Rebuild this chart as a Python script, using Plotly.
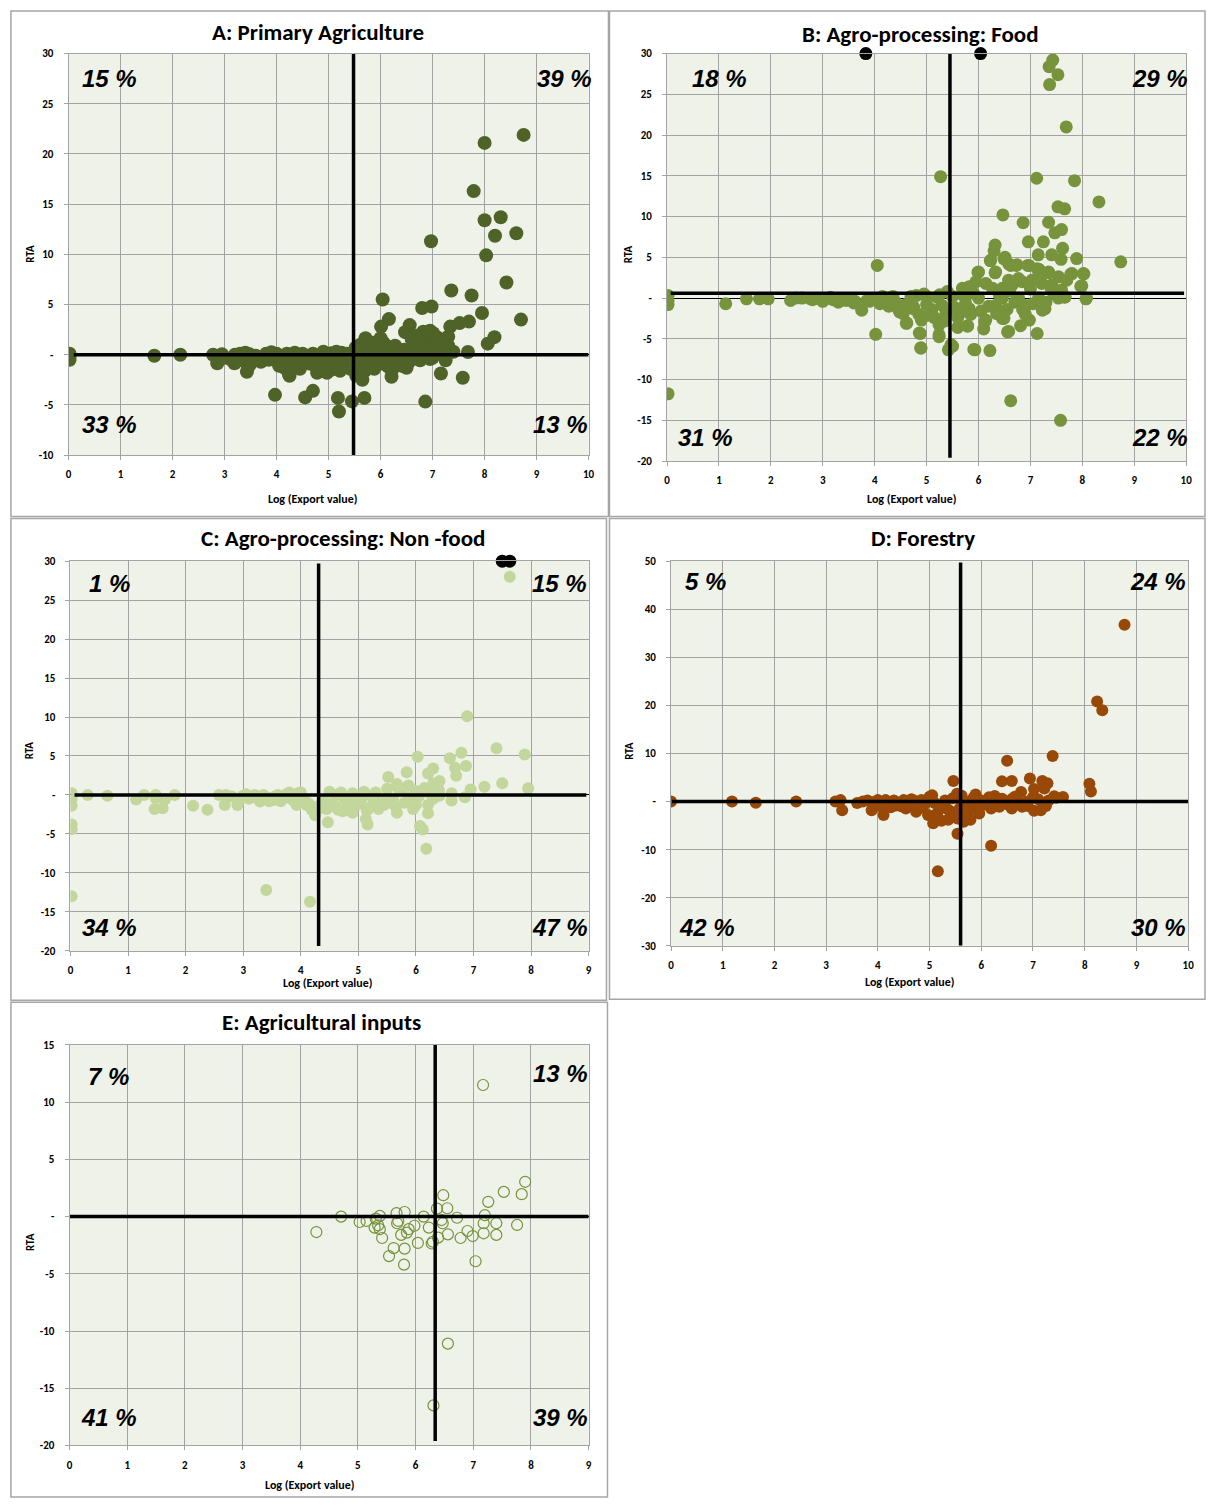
import plotly.graph_objects as go
from plotly.subplots import make_subplots

W, H = 1212, 1505

# ---------------- data ----------------
# A: Primary Agriculture
a_x = [8.75, 8.0, 7.79, 8.0, 8.31, 8.2, 8.61, 6.97, 8.03, 8.42, 7.36, 7.75, 6.04, 7.95, 6.8, 6.98,
       8.7, 6.16, 7.7, 7.52, 7.34, 6.56, 6.01, 6.47, 6.82, 7.01, 7.3, 8.19, 8.06, 7.68, 5.71, 6.0,
       5.61, 6.06, 6.9, 6.76, 7.17, 6.6, 6.3, 6.45, 5.9, 6.2, 7.05, 6.7, 6.95, 7.1, 6.55, 5.6,
       5.5, 5.75, 5.85, 6.9, 7.4,
       0.02, 0.02, 0.02, 1.65, 2.15, 2.78, 2.86, 2.95, 3.13, 3.19, 3.3, 3.35, 3.43, 3.45, 3.48, 3.6,
       3.64, 3.67, 3.8, 3.89, 3.97, 4.0, 4.1, 4.15, 4.2, 4.25, 4.24, 4.3, 4.38, 4.47, 4.5, 4.55,
       4.6, 4.7, 4.7, 4.78, 4.8, 4.9, 4.97, 5.0, 5.05, 5.1, 5.15, 5.18, 5.2, 5.25, 5.29, 5.3,
       5.35, 5.4, 5.45, 5.45, 5.53, 5.55, 5.6, 5.64, 5.69, 5.8, 5.93, 6.0, 6.1, 6.18, 6.21, 6.24,
       6.3, 6.44, 6.5, 6.6, 6.76, 6.86, 6.95, 7.0, 7.16, 7.25, 7.58, 4.0, 3.75, 3.2, 3.55, 4.4,
       4.65, 4.85, 5.05, 5.2, 5.5, 5.7, 5.9, 6.05, 6.35, 6.5,
       3.0, 3.25, 3.5, 3.7, 3.85, 4.05, 4.25, 4.45, 4.55, 4.75, 4.95, 5.1, 5.22, 5.35, 5.42, 5.58,
       5.65, 5.78, 5.88, 6.08, 6.15, 6.28, 6.4, 6.55, 6.65, 6.85, 7.05, 7.2, 7.3, 3.4, 3.9, 4.35,
       4.9, 5.15, 5.52, 5.95, 6.25, 6.7, 7.1]
a_y = [21.9, 21.1, 16.3, 13.4, 13.7, 11.85, 12.1, 11.3, 9.9, 7.2, 6.4, 5.9, 5.5, 4.15, 4.65, 4.8,
       3.5, 3.55, 3.3, 3.15, 2.8, 2.95, 2.8, 2.25, 2.3, 2.15, 1.8, 1.75, 1.1, 0.27, 1.65, 1.65,
       1.0, 1.16, 1.45, 0.95, 0.6, 1.5, 0.6, 0.5, 0.7, 0.3, 1.0, 1.9, 2.4, 0.3, 0.2, 0.5,
       0.3, 0.2, 1.2, 0.5, 0.3,
       0.1, -0.2, -0.5, -0.1, 0.0, 0.0, -0.85, 0.05, -0.5, -0.85, 0.1, -0.2, -1.7, -1.3, 0.05, -0.1,
       -0.32, -0.35, 0.1, -0.2, -4.0, 0.1, -0.3, -1.3, 0.1, -2.1, -1.97, -0.4, -0.85, -0.81, 0.1, -4.25,
       -0.3, -3.6, 0.1, -1.8, -0.5, 0.1, -1.8, -0.4, 0.15, -0.81, -0.2, -4.3, -5.65, 0.2, -0.32, -1.0,
       0.1, -0.6, -4.65, 0.15, -2.07, -1.2, -0.5, -0.65, -4.3, -0.16, -0.32, -0.5, 0.1, -0.49, -2.2, -1.35,
       -0.2, -1.15, -0.3, 0.0, -0.55, -4.67, -0.42, -0.3, -1.87, -0.55, -2.3, -0.6, -0.5, 0.0, -0.6, 0.0,
       -0.9, -1.2, -1.5, -0.9, -1.0, -1.6, -1.0, -0.9, -0.9, -1.3,
       -0.3, -0.6, -0.9, -0.7, -0.5, -1.1, -0.6, -1.4, -0.7, -1.0, -0.6, -1.2, -1.6, -0.3, -1.4, 0.6,
       -2.5, -1.1, -1.4, 0.4, -1.2, 0.9, 0.3, -0.7, 0.5, 0.2, 1.4, 1.1, 0.9, 0.2, 0.25, 0.2,
       0.3, 0.3, 0.7, 0.6, 0.8, 1.2, 1.7]
a_pct = ["15 %", "39 %", "33 %", "13 %"]
a_cut_x, a_cut_y = 5.48, 0.0

# B: Agro-processing: Food
b_x = [7.43, 7.36, 7.53, 7.37, 7.69, 5.27, 7.12, 7.85, 8.32, 7.53, 7.66, 6.47, 6.86, 7.35, 7.47, 7.6,
       6.96, 7.25, 6.32, 6.3, 7.15, 7.62, 7.41, 8.74, 7.89, 7.59, 6.23, 6.51, 6.58, 6.73, 4.05, 5.99,
       6.32, 6.95, 7.17, 7.35, 7.78, 8.03, 7.97, 8.07, 7.66,
       6.0, 6.33, 6.23, 6.49, 6.62, 6.74, 6.97, 7.13, 7.35, 7.54, 7.8, 8.02, 7.99, 7.7, 8.08, 7.67,
       5.95, 6.14, 5.82, 5.69, 6.27, 6.46, 6.65, 6.84, 7.03, 7.22, 7.41, 7.16, 6.77, 6.58,
       4.61, 4.86, 4.89, 5.24, 5.24, 5.47, 5.79, 5.91, 6.22, 6.58, 6.81, 7.13, 6.46, 6.14, 5.63, 5.05,
       4.48, 4.29, 4.74, 5.37, 5.82, 6.33, 6.9, 7.28, 7.54, 7.16, 6.77, 6.46, 6.0, 5.5, 5.7, 5.2,
       5.0, 4.8,
       0.02, 0.02, 0.02, 1.13, 1.53, 1.78, 1.95, 2.38, 2.48, 2.75, 2.9, 3.05, 3.2, 3.35, 3.5, 3.62,
       3.75, 3.85, 4.0, 4.02, 4.15, 4.27, 4.4, 4.55, 4.62, 4.7, 4.88, 4.89, 4.9, 5.0, 5.24, 5.42,
       5.5, 5.93, 6.62, 7.58, 0.02, 6.56, 6.49, 6.12, 6.98, 7.23, 6.85, 5.79, 5.67,
       2.6, 2.8, 3.0, 3.15, 3.3, 3.45, 3.6, 3.9, 4.1, 4.3, 4.45, 4.6, 4.75, 4.85, 5.1, 5.15,
       5.3, 5.35, 5.55, 5.6, 5.75, 5.85, 6.05, 6.2, 6.35, 6.55, 6.7, 6.9, 7.05, 7.3, 7.45, 7.6,
       4.95, 5.4, 5.9, 6.4, 6.6, 7.0, 7.4, 5.25, 4.7, 4.35, 5.6, 6.1]
b_y = [29.2, 28.4, 27.4, 26.2, 21.0, 14.9, 14.7, 14.4, 11.8, 11.2, 10.95, 10.2, 9.25, 9.3, 8.0, 8.4,
       6.9, 6.9, 6.5, 5.8, 5.3, 6.1, 5.3, 4.45, 4.85, 4.75, 4.6, 5.0, 4.2, 4.0, 4.0, 3.15,
       3.1, 4.0, 3.5, 3.1, 2.95, 2.95, 1.45, -0.1, 0.1,
       3.2, 3.2, 4.6, 4.8, 4.0, 4.1, 4.0, 3.6, 3.2, 2.6, 3.0, 3.0, 1.5, 2.2, 0.0, 0.15,
       2.0, 1.8, 1.4, 1.2, 1.2, 1.2, 1.6, 2.0, 2.2, 1.8, 1.6, 2.6, 2.4, 2.2,
       -3.1, -4.3, -6.1, -3.3, -4.5, -5.7, -3.4, -6.3, -6.45, -4.1, -3.4, -4.35, -2.5, -2.7, -1.7, -2.1,
       -1.7, -0.45, -1.3, -1.9, -1.3, -0.9, -0.9, -1.3, 0.0, 0.0, 0.0, 0.0, 0.0, 0.2, 0.4, 0.1,
       0.2, 0.3,
       0.3, -0.3, -0.8, -0.7, -0.1, -0.1, -0.1, -0.3, 0.0, -0.05, -0.05, -0.1, -0.2, -0.3, -0.2, -0.4,
       -1.5, -0.3, -0.2, -4.45, 0.2, -1.0, -0.5, -1.9, -3.05, 0.2, -4.35, -6.15, -2.7, -0.8, -4.75, -6.35,
       -5.9, -6.35, -12.6, -15.0, -11.75, -4.15, -2.5, -2.9, -2.7, -1.5, -1.4, -3.45, -1.7,
       0.0, -0.2, -0.4, 0.1, -0.5, -0.3, -0.6, -0.4, -0.7, -0.5, -1.3, -0.8, -1.1, -2.0, -1.4, -2.4,
       -0.9, -2.8, -1.2, -2.4, -0.6, -2.0, -1.6, -1.0, -1.9, -1.4, -0.5, -2.0, -0.7, -0.5, 0.5, 1.0,
       0.5, 0.8, 0.6, 0.4, 0.9, 1.1, 1.2, 0.4, -0.2, 0.2, -3.6, -3.8]
b_out_x = [3.83, 6.04]
b_out_y = [30, 30]
b_pct = ["18 %", "29 %", "31 %", "22 %"]
b_cut_x, b_cut_y = 5.45, 0.6

# C: Agro-processing: Non-food
c_x = [7.63, 6.89, 7.4, 7.89, 6.03, 6.59, 6.79, 6.87, 6.68, 6.7, 6.3, 6.21, 5.84, 5.52, 5.67, 5.87,
       6.41, 6.95, 7.19, 7.5, 7.95, 6.62, 6.62, 6.85, 6.41, 6.15, 6.3, 5.5, 5.3, 5.1, 4.9, 4.7,
       4.5, 6.0, 5.75,
       0.02, 0.02, 0.02, 0.02, 0.02, 0.02, 3.4, 4.16, 0.3, 0.64, 1.14, 1.28, 1.48, 1.48, 1.46, 1.6,
       1.64, 1.81, 2.13, 2.38, 2.58, 2.68, 2.9, 2.8, 3.0, 3.1, 3.2, 3.29, 3.4, 3.52, 3.6, 3.7,
       3.8, 3.93, 3.95, 4.05, 4.13, 4.19, 4.25, 4.47, 4.6, 4.73, 4.9, 5.0, 5.13, 5.16, 5.3, 5.44,
       5.6, 5.67, 5.8, 6.0, 6.07, 6.12, 6.18, 6.21, 6.21, 4.4, 4.8, 5.2, 4.6, 5.9, 6.3,
       2.7, 2.95, 3.05, 3.15, 3.35, 3.45, 3.55, 3.65, 3.75, 3.85, 3.9, 4.0, 4.1, 4.2, 4.35, 4.45,
       4.55, 4.65, 4.75, 4.85, 4.95, 5.05, 5.15, 5.25, 5.35, 5.45, 5.55, 5.65, 5.7, 5.95, 6.05, 6.25,
       6.4, 4.3, 4.25]
c_y = [28.0, 10.1, 6.0, 5.2, 4.9, 4.7, 5.4, 3.7, 3.5, 2.45, 3.4, 2.75, 2.9, 2.3, 1.4, 1.2,
       1.8, 0.7, 1.05, 1.5, 0.85, 0.2, -0.7, -0.3, -0.1, 0.9, 1.5, 0.8, 0.3, 0.4, 0.2, 0.3,
       0.4, 0.5, 0.6,
       0.2, -0.5, -1.4, -3.8, -4.4, -13.0, -12.2, -13.7, 0.0, -0.1, -0.6, 0.0, 0.0, -0.4, -1.8, -1.7,
       -0.6, 0.0, -1.4, -1.9, 0.0, -1.3, -1.3, -0.2, -0.1, -0.5, 0.0, -0.85, -0.3, -0.65, 0.0, -0.4,
       0.3, -1.3, 0.2, -0.5, -1.05, -1.9, -2.3, -3.5, -1.5, -2.1, -2.3, -1.2, -3.1, -3.8, -0.8, -1.3,
       -0.5, -2.3, -1.0, -1.3, -4.0, -4.45, -6.9, -1.3, -2.35, -0.8, -0.9, -1.6, 0.0, -0.3, -0.5,
       0.0, -0.6, 0.1, -0.3, 0.0, -0.8, -0.2, -0.8, 0.1, -0.6, -0.9, 0.3, -1.3, -1.5, -1.2, -1.8,
       -1.1, -1.9, -0.5, -1.6, -1.0, -0.6, -2.0, -0.4, -1.8, -0.7, -1.0, -1.5, 0.8, -1.8, -0.2, 0.2,
       0.6, -1.8, -2.6]
c_out_x = [7.5, 7.63]
c_out_y = [30, 30]
c_pct = ["1 %", "15 %", "34 %", "47 %"]
c_cut_x, c_cut_y = 4.31, 0.0

# D: Forestry
d_x = [8.77, 8.24, 8.34, 7.38, 6.5, 5.46, 6.4, 6.59, 6.94, 7.18, 7.28, 7.02, 7.22, 8.09, 8.12, 6.77,
       7.58, 7.41, 5.89, 6.26, 5.05, 5.53, 6.6, 0.0, 1.18, 1.64, 2.42, 3.18, 3.28, 3.31, 3.71, 3.88,
       4.07, 4.11, 4.31, 4.5, 4.7, 4.84, 4.54, 4.74, 4.97, 5.07, 5.23, 5.36, 5.16, 5.54, 6.19, 5.54,
       5.66, 5.79, 5.96, 5.69, 5.86, 6.19, 6.35, 6.59, 6.79, 7.02, 7.15, 3.95, 4.2, 4.35, 4.6, 4.9,
       5.1, 5.3, 5.6, 5.8, 6.0, 6.2, 6.45, 6.7, 6.9, 7.1, 7.3, 5.2, 5.4, 6.0, 6.5, 6.9,
       7.2, 5.7, 5.9, 3.6, 4.0,
       3.8, 4.0, 4.15, 4.25, 4.4, 4.45, 4.65, 4.8, 4.95, 5.0, 5.15, 5.25, 5.35, 5.45, 5.5, 5.62,
       5.72, 5.85, 5.95, 6.1, 6.3, 6.4, 6.55, 6.65, 6.85, 7.0, 7.25, 7.45, 5.58, 5.75, 4.55, 6.15]
d_y = [36.8, 20.8, 19.0, 9.5, 8.5, 4.3, 4.2, 4.3, 4.8, 4.3, 3.8, 2.6, 2.7, 3.7, 2.1, 2.0,
       0.95, 1.1, 1.45, 1.15, 1.3, 1.65, 0.6, 0.0, 0.0, -0.25, 0.0, 0.0, 0.3, -1.8, 0.0, -1.8,
       -1.1, -2.8, 0.2, 0.3, 0.2, 0.3, -1.45, -2.1, -2.8, -4.5, -4.0, -3.8, -14.5, -6.7, -9.2, -3.5,
       -4.2, -3.8, -2.5, -1.45, -1.1, -1.45, -1.1, -1.45, -1.1, -1.9, -1.8, 0.0, -0.5, -0.8, -0.4, -0.6,
       -0.3, 0.2, 0.3, 0.1, 0.2, 0.4, 0.1, 0.3, 0.0, 0.5, 0.2, -1.2, -2.0, -0.8, -0.5, -0.9,
       -0.6, -2.6, -0.5, -0.3, 0.3,
       0.2, -0.8, 0.3, -1.2, -0.3, -1.0, 0.5, -1.4, 0.1, 1.0, -2.4, -0.7, -1.6, 0.7, -2.3, 1.2,
       -0.8, 0.8, -1.6, -0.6, -0.9, 0.6, -0.8, 1.0, -0.4, 0.9, -0.9, 0.8, -1.5, -2.0, -0.8, 0.9]
d_pct = ["5 %", "24 %", "42 %", "30 %"]
d_cut_x, d_cut_y = 5.6, 0.0

# E: Agricultural inputs
e_x = [7.17, 6.56, 6.31, 4.28, 4.71, 5.03, 5.15, 5.31, 5.38, 5.35, 5.38, 5.29, 5.42, 5.54, 5.62, 5.8,
       5.81, 5.75, 5.67, 5.7, 5.68, 5.81, 5.88, 5.98, 6.04, 6.14, 6.23, 6.3, 6.37, 6.48, 6.47, 6.56,
       6.39, 6.55, 6.72, 6.78, 6.99, 6.9, 7.04, 7.18, 7.2, 7.18, 7.26, 7.4, 7.4, 7.53, 7.76, 7.84,
       7.9, 6.28, 6.45, 5.85]
e_y = [11.5, -11.1, -16.5, -1.35, 0.0, -0.47, -0.38, -0.18, 0.06, -0.76, -1.1, -0.96, -1.87, -3.45, -2.75, -4.2,
       -2.8, -1.6, 0.3, -0.38, -0.58, 0.4, -1.1, -0.8, -2.3, 0.0, -0.96, -2.2, 0.7, 1.87, -0.58, -1.55,
       -1.84, 0.73, -0.1, -1.87, -1.7, -1.26, -3.9, -0.58, 0.12, -1.46, 1.29, -0.58, -1.6, 2.16, -0.73, 1.96,
       3.04, -2.35, -0.3, -1.4]
e_pct = ["7 %", "13 %", "41 %", "39 %"]
e_cut_x, e_cut_y = 6.34, 0.0


def px(x):
    return x / W


def py(y):
    return 1 - y / H


# layout of each panel, in screen pixels of the original page
panels = [
    dict(row=1, col=1, title="A: Primary Agriculture", x=a_x, y=a_y, color="#4f6228", size=14, hollow=False,
         xmax=10, yr=(-10, 30), ystep=5, box=(66, 48, 590, 453), frame=(8, 5, 610, 515), tpos=(317, 26),
         pct=a_pct, ppos=[(107, 73), (566, 73), (107, 422), (562, 422)],
         cut=(a_cut_x, a_cut_y), vspan=(-10, 30), hspan=(0.1, 10),
         xt=(312, 497), yt=(28, 250), out=None),
    dict(row=1, col=2, title="B: Agro-processing: Food", x=b_x, y=b_y, color="#77933c", size=13, hollow=False,
         xmax=10, yr=(-20, 30), ystep=5, box=(669, 48, 1192, 459), frame=(611, 5, 1211, 515), tpos=(924, 28),
         pct=b_pct, ppos=[(722, 73), (1166, 73), (708, 435), (1166, 435)],
         cut=(b_cut_x, b_cut_y), vspan=(-19.6, 30), hspan=(0.07, 9.96),
         xt=(915, 497), yt=(631, 250), out=(b_out_x, b_out_y)),
    dict(row=2, col=1, title="C: Agro-processing: Non -food", x=c_x, y=c_y, color="#c3d69b", size=12, hollow=False,
         xmax=9, yr=(-20, 30), ystep=5, box=(68, 560, 590, 953), frame=(8, 517, 608, 1003), tpos=(343, 537),
         pct=c_pct, ppos=[(107, 583), (561, 583), (107, 930), (561, 930)],
         cut=(c_cut_x, c_cut_y), vspan=(-19.4, 29.7), hspan=(0.07, 8.96),
         xt=(327, 986), yt=(27, 751), out=(c_out_x, c_out_y)),
    dict(row=2, col=2, title="D: Forestry", x=d_x, y=d_y, color="#984807", size=12, hollow=False,
         xmax=10, yr=(-30, 50), ystep=10, box=(673, 560, 1194, 948), frame=(611, 517, 1211, 1002), tpos=(927, 537),
         pct=d_pct, ppos=[(708, 581), (1164, 581), (709, 930), (1164, 930)],
         cut=(d_cut_x, d_cut_y), vspan=(-30, 49.7), hspan=(0.02, 10),
         xt=(913, 985), yt=(631, 751), out=None),
    dict(row=3, col=1, title="E: Agricultural inputs", x=e_x, y=e_y, color="#77933c", size=11, hollow=True,
         xmax=9, yr=(-20, 15), ystep=5, box=(67, 1048, 590, 1452), frame=(8, 1005, 609, 1504), tpos=(321, 1025),
         pct=e_pct, ppos=[(106, 1080), (562, 1077), (107, 1424), (562, 1424)],
         cut=(e_cut_x, e_cut_y), vspan=(-19.6, 15.4), hspan=(0, 9),
         xt=(309, 1492), yt=(27, 1247), out=None),
]

NARROW = "Carlito, 'Liberation Sans Narrow', 'DejaVu Sans Condensed', 'Open Sans', sans-serif"
GRID = "#a3a3a3"

fig = make_subplots(rows=3, cols=2, specs=[[{}, {}], [{}, {}], [{}, None]])

for p in panels:
    r, c = p["row"], p["col"]
    x0, y0, x1, y1 = p["box"]

    # scatter of products
    if p["hollow"]:
        marker = dict(size=p["size"], color="rgba(0,0,0,0)", line=dict(color=p["color"], width=1.2))
    else:
        marker = dict(size=p["size"], color=p["color"], line=dict(width=0))
    fig.add_trace(go.Scatter(x=p["x"], y=p["y"], mode="markers", marker=marker, hoverinfo="skip"), row=r, col=c)

    # off-scale points pinned at the top
    if p["out"]:
        fig.add_trace(go.Scatter(x=p["out"][0], y=p["out"][1], mode="markers", cliponaxis=False,
                                 marker=dict(size=13, color="black"), hoverinfo="skip"), row=r, col=c)

    # quadrant lines
    cx, cy = p["cut"]
    fig.add_trace(go.Scatter(x=[cx, cx], y=list(p["vspan"]), mode="lines", cliponaxis=False,
                             line=dict(color="black", width=3.5), hoverinfo="skip"), row=r, col=c)
    fig.add_trace(go.Scatter(x=list(p["hspan"]), y=[cy, cy], mode="lines", cliponaxis=False,
                             line=dict(color="black", width=3.5), hoverinfo="skip"), row=r, col=c)

    ylo, yhi = p["yr"]
    yvals = list(range(ylo, yhi + 1, p["ystep"]))
    ytext = ["-" if v == 0 else str(v) for v in yvals]

    fig.update_xaxes(domain=[px(x0), px(x1)], range=[0, p["xmax"]], tickvals=list(range(p["xmax"] + 1)),
                     showgrid=True, gridcolor=GRID, gridwidth=1, zeroline=False,
                     showline=True, linecolor=GRID, linewidth=1, mirror=True,
                     ticks="outside", ticklen=4, tickcolor=GRID, ticklabelstandoff=5,
                     tickfont=dict(family=NARROW, size=11, color="black", weight="bold"),
                     row=r, col=c)
    fig.update_yaxes(domain=[py(y1), py(y0)], range=[ylo, yhi], tickvals=yvals, ticktext=ytext,
                     showgrid=True, gridcolor=GRID, gridwidth=1,
                     zeroline=True, zerolinecolor="black", zerolinewidth=1,
                     showline=True, linecolor=GRID, linewidth=1, mirror=True,
                     ticks="outside", ticklen=4, tickcolor=GRID, ticklabelstandoff=8,
                     tickfont=dict(family=NARROW, size=11, color="black", weight="bold"),
                     row=r, col=c)

    # panel frame
    fx0, fy0, fx1, fy1 = p["frame"]
    fig.add_shape(type="rect", xref="paper", yref="paper", x0=px(fx0), x1=px(fx1), y0=py(fy1), y1=py(fy0),
                  line=dict(color="#a6a6a6", width=1.5), fillcolor="rgba(0,0,0,0)", layer="below")

    # title
    fig.add_annotation(x=px(p["tpos"][0]), y=py(p["tpos"][1]), xref="paper", yref="paper", text=p["title"],
                       showarrow=False, xanchor="center", yanchor="middle",
                       font=dict(family=NARROW, size=23, color="black", weight="bold"))

    # quadrant shares
    for txt, (tx, ty) in zip(p["pct"], p["ppos"]):
        fig.add_annotation(x=px(tx), y=py(ty), xref="paper", yref="paper", text=txt, showarrow=False,
                           xanchor="center", yanchor="middle",
                           font=dict(family="'Liberation Sans', Arial, sans-serif", size=24, color="black",
                                     weight="bold", style="italic"))

    # axis titles
    fig.add_annotation(x=px(p["xt"][0]), y=py(p["xt"][1]), xref="paper", yref="paper", text="Log (Export value)",
                       showarrow=False, xanchor="center", yanchor="middle",
                       font=dict(family=NARROW, size=12, color="black", weight="bold"))
    fig.add_annotation(x=px(p["yt"][0]), y=py(p["yt"][1]), xref="paper", yref="paper", text="RTA",
                       showarrow=False, textangle=-90, xanchor="center", yanchor="middle",
                       font=dict(family=NARROW, size=11, color="black", weight="bold"))

fig.update_layout(
    width=W, height=H,
    margin=dict(l=0, r=0, t=0, b=0),
    paper_bgcolor="white",
    plot_bgcolor="#eef2e8",
    showlegend=False,
)

# page at its origin, no scrollbars, no modebar
fig.write_html(
    "out.html",
    config={"displayModeBar": False},
    post_script=("document.body.style.margin='0px';"
                 "document.documentElement.style.overflow='hidden';"
                 "document.body.style.overflow='hidden';"),
)
